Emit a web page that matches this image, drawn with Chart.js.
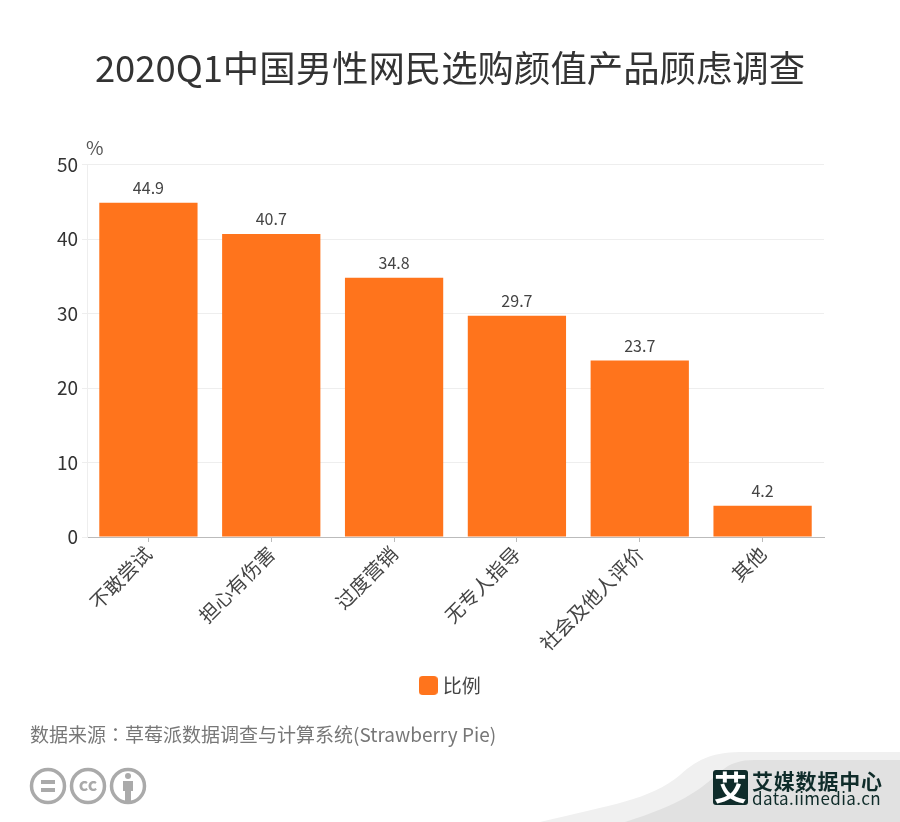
<!DOCTYPE html>
<html>
<head>
<meta charset="utf-8">
<style>
  html, body { margin: 0; padding: 0; background: #fff; }
  #wrap { width: 900px; height: 822px; }
</style>
<script src="https://cdn.jsdelivr.net/npm/chart.js@4"></script>
</head>
<body>
<div id="wrap"><canvas id="surveyChart" width="900" height="822"></canvas></div>
<script>
const FONT = '"Noto Sans CJK SC", "Noto Sans", sans-serif';
const FONT_TC = '"Noto Sans CJK TC", "Noto Sans", sans-serif';

const categories = ["不敢尝试", "担心有伤害", "过度营销", "无专人指导", "社会及他人评价", "其他"];
const ratio = [44.9, 40.7, 34.8, 29.7, 23.7, 4.2];
const yTicks = [0, 10, 20, 30, 40, 50];
const seriesName = "比例";
const titleText = "2020Q1中国男性网民选购颜值产品顾虑调查";
const sourceHead = "数据来源";
const sourceColon = "：";
const sourceTail = "草莓派数据调查与计算系统(Strawberry Pie)";

const BAR_COLOR = "#ff741c";

// 图例色块：画成小图，让文字贴得更近
function legendSwatch() {
  const c = document.createElement("canvas");
  c.width = 19;
  c.height = 19;
  const g = c.getContext("2d");
  g.fillStyle = BAR_COLOR;
  g.beginPath();
  g.roundRect(0, 0, 19, 19, 4);
  g.fill();
  return c;
}

// 背景灰色弧形 + 版权图标 + 艾媒 logo
function drawCorner(ctx) {
  ctx.save();
  ctx.fillStyle = "#f0f0f0";
  ctx.beginPath();
  ctx.moveTo(540, 822);
  ctx.bezierCurveTo(610, 805, 650, 800, 680, 775);
  ctx.bezierCurveTo(700, 757, 715, 752, 745, 752);
  ctx.lineTo(900, 752);
  ctx.lineTo(900, 822);
  ctx.closePath();
  ctx.fill();

  ctx.fillStyle = "#e1e1e1";
  ctx.beginPath();
  ctx.moveTo(625, 822);
  ctx.bezierCurveTo(680, 805, 700, 790, 720, 772);
  ctx.bezierCurveTo(730, 763, 740, 760, 755, 760);
  ctx.lineTo(900, 760);
  ctx.lineTo(900, 822);
  ctx.closePath();
  ctx.fill();

  ctx.fillStyle = "#0f2c2a";
  ctx.beginPath();
  ctx.roundRect(713, 770, 35, 35, 3);
  ctx.fill();

  ctx.textBaseline = "middle";
  ctx.textAlign = "center";
  ctx.fillStyle = "#fff";
  ctx.font = "bold 33px " + FONT;
  ctx.fillText("艾", 730.5, 787);

  ctx.textAlign = "left";
  ctx.fillStyle = "#0f2c2a";
  ctx.font = "bold 21px " + FONT;
  ctx.letterSpacing = "0.8px";
  ctx.fillText("艾媒数据中心", 752, 781);
  ctx.font = "17px " + FONT;
  ctx.letterSpacing = "0.4px";
  ctx.fillText("data.iimedia.cn", 752, 799);
  ctx.letterSpacing = "0px";

  // cc 图标
  ctx.strokeStyle = "#aaa";
  ctx.fillStyle = "#aaa";
  ctx.lineWidth = 3.5;
  [48, 88, 128].forEach((cx) => {
    ctx.beginPath();
    ctx.arc(cx, 786, 16.5, 0, Math.PI * 2);
    ctx.stroke();
  });
  ctx.fillRect(41, 780, 14, 4);
  ctx.fillRect(41, 788, 14, 4);
  ctx.textAlign = "center";
  ctx.font = "bold 18px " + FONT;
  ctx.fillText("cc", 88, 784);
  ctx.beginPath();
  ctx.arc(128, 776, 3, 0, Math.PI * 2);
  ctx.fill();
  ctx.fillRect(123, 781, 10, 10);
  ctx.fillRect(125, 791, 6, 10);
  ctx.restore();
}

const extras = {
  id: "extras",
  // 标题、图例按整张图居中，而不是按扣掉右边距后的宽度
  afterLayout(chart) {
    [chart.titleBlock, chart.legend].forEach((box) => {
      box.left += 38;
      box.right += 38;
    });
    chart.legend.left += 2;
    chart.legend.right += 2;
  },
  beforeDraw(chart) {
    drawCorner(chart.ctx);
  },
  afterDatasetsDraw(chart) {
    const ctx = chart.ctx;
    const area = chart.chartArea;
    ctx.save();
    // 数值标签
    ctx.fillStyle = "#444";
    ctx.font = "16px " + FONT;
    ctx.textAlign = "center";
    ctx.textBaseline = "bottom";
    chart.getDatasetMeta(0).data.forEach((bar, i) => {
      ctx.fillText(ratio[i].toFixed(1), bar.x, bar.y - 7);
    });
    // 单位
    ctx.fillStyle = "#555";
    ctx.font = "19px " + FONT;
    ctx.textAlign = "left";
    ctx.textBaseline = "middle";
    ctx.fillText("%", area.left - 1, 148);
    // 来源，冒号用 TC 字形才居中
    ctx.fillStyle = "#777";
    ctx.font = "19px " + FONT;
    ctx.fillText(sourceHead, 30, 735);
    const headW = ctx.measureText(sourceHead).width;
    ctx.fillText(sourceTail, 30 + headW + 19, 735);
    ctx.font = "19px " + FONT_TC;
    ctx.fillText(sourceColon, 30 + headW, 735);
    ctx.restore();
  },
};

const ctx = document.getElementById("surveyChart").getContext("2d");
new Chart(ctx, {
  type: "bar",
  data: {
    labels: categories,
    datasets: [
      {
        label: seriesName,
        data: ratio,
        backgroundColor: BAR_COLOR,
        hoverBackgroundColor: BAR_COLOR,
        categoryPercentage: 1,
        barPercentage: 0.8,
      },
    ],
  },
  plugins: [extras],
  options: {
    responsive: false,
    animation: false,
    layout: { padding: { left: 0, right: 76, top: 0, bottom: 117 } },
    scales: {
      x: {
        grid: { display: true, drawOnChartArea: false, offset: false, color: "#bbb", tickLength: 5 },
        border: { color: "#bbb" },
        ticks: {
          color: "#444",
          font: { family: FONT, size: 19.5 },
          maxRotation: 45,
          minRotation: 45,
          padding: 0,
          autoSkip: false,
        },
        afterFit(scale) {
          scale.height = 139;
        },
      },
      y: {
        min: 0,
        max: 50,
        afterBuildTicks(scale) {
          scale.ticks = yTicks.map((v) => ({ value: v }));
        },
        grid: { color: "#eee", tickLength: 5, drawTicks: true },
        border: { color: "#eee" },
        ticks: {
          color: "#333",
          font: { family: FONT, size: 19 },
          padding: 4,
        },
        afterFit(scale) {
          scale.width = 87;
        },
      },
    },
    plugins: {
      title: {
        display: true,
        text: titleText,
        color: "#333",
        font: { family: FONT, size: 36.4, weight: "normal" },
        padding: { top: 46, bottom: 75 },
      },
      legend: {
        position: "bottom",
        labels: {
          usePointStyle: true,
          pointStyle: legendSwatch(),
          pointStyleWidth: 10,
          color: "#444",
          font: { family: FONT, size: 19 },
          padding: 0,
        },
      },
      tooltip: { enabled: false },
    },
  },
});
</script>
</body>
</html>
